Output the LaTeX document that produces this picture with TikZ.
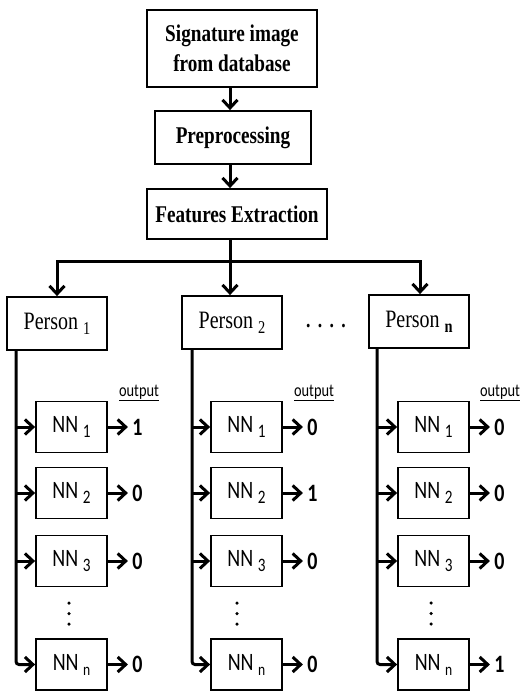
\documentclass[tikz,border=0pt]{standalone}
\usepackage{fontspec}
\usetikzlibrary{arrows.meta}
\newfontfamily\ttlfont{Liberation Serif}[FakeStretch=0.8]
\newfontfamily\nnfont{Carlito}[FakeStretch=0.8]
\newcommand\lowsub[2]{\raisebox{-5pt}{\fontsize{#1}{#1}\selectfont #2}}
\tikzset{
  boxbase/.style={draw, line width=1.8pt, inner sep=0pt, align=center},
  titlebox/.style={boxbase, font=\ttlfont\bfseries\fontsize{24}{30}\selectfont},
  personbox/.style={boxbase, minimum width=100pt, minimum height=53pt, font=\ttlfont\fontsize{25}{28}\selectfont},
  nnbox/.style={boxbase, minimum width=71pt, minimum height=51pt, font=\nnfont\fontsize{25}{28}\selectfont},
  mainline/.style={line width=3pt},
  tip/.style={-{Straight Barb[length=8pt,width=15pt]}},
  outval/.style={font=\nnfont\bfseries\fontsize{25}{28}\selectfont, inner sep=0pt, anchor=west},
  outhead/.style={font=\nnfont\fontsize{18}{20}\selectfont, inner sep=1pt},
  vdot/.style={circle, fill, inner sep=0pt, minimum size=3.5pt},
}
\begin{document}
\begin{tikzpicture}[x=1pt,y=-1pt]
\useasboundingbox (0,0) rectangle (521,692);
% top chain
\node[titlebox, minimum width=170pt, minimum height=77pt] (sig) at (232,48.5) {Signature image\\from database};
\node[titlebox, minimum width=156pt, minimum height=53pt] (pre) at (233,137.5) {Preprocessing};
\node[titlebox, minimum width=180pt, minimum height=50pt] (fea) at (237,214) {Features Extraction};
\draw[mainline,tip] (sig.south -| 230,0) -- (pre.north -| 230,0);
\draw[mainline,tip] (pre.south -| 230,0) -- (fea.north -| 230,0);
% persons
\node[personbox] (p1) at (57,323.5) {Person \lowsub{18}{1}};
\node[personbox] (p2) at (232,322.5) {Person \lowsub{18}{2}};
\node[personbox] (pn) at (419,321.5) {Person \lowsub{18}{\bfseries n}};
\coordinate (split) at (230,261);
\draw[mainline] (fea.south -| split) -- (split);
\draw[mainline,tip] (split) -| (p1.north);
\draw[mainline,tip] (split) -- (split |- p2.north);
\draw[mainline,tip] (split) -| ([xshift=1pt]pn.north);
\node[font=\ttlfont\bfseries\fontsize{22}{22}\selectfont, inner sep=0pt] (dots) at (326,326) {.\,\,.\,\,.\,\,.};
% NN columns
\foreach \c/\cx/\bx/\dx in {1/71.5/16/69, 2/246.5/192/237, 3/433.5/377/431}{
  \node[nnbox] (n\c a) at (\cx,427) {NN \lowsub{19}{1}};
  \node[nnbox] (n\c b) at (\cx,493) {NN \lowsub{19}{2}};
  \node[nnbox] (n\c c) at (\cx,561) {NN \lowsub{19}{3}};
  \node[nnbox] (n\c n) at (\cx,664.5) {NN \lowsub{17}{n}};
  \node[vdot] (d\c a) at (\dx,603) {};
  \node[vdot] (d\c b) at (\dx,613.5) {};
  \node[vdot] (d\c c) at (\dx,624) {};
  \coordinate (bus\c) at (\bx,349);
  \draw[mainline,tip,rounded corners=3pt] (bus\c) |- (n\c n.west);
  \draw[mainline,tip] (bus\c |- n\c a.west) -- (n\c a.west);
  \draw[mainline,tip] (bus\c |- n\c b.west) -- (n\c b.west);
  \draw[mainline,tip] (bus\c |- n\c c.west) -- (n\c c.west);
}
% outputs
\foreach \c/\va/\vb/\vc/\vn in {1/1/0/0/0, 2/0/1/0/0, 3/0/0/0/1}{
  \draw[mainline,tip] (n\c a.east) -- ++(20,0) node[outval,xshift=3pt] (o\c a) {\va};
  \draw[mainline,tip] (n\c b.east) -- ++(20,0) node[outval,xshift=3pt] (o\c b) {\vb};
  \draw[mainline,tip] (n\c c.east) -- ++(20,0) node[outval,xshift=3pt] (o\c c) {\vc};
  \draw[mainline,tip] (n\c n.east) -- ++(20,0) node[outval,xshift=3pt] (o\c n) {\vn};
}
\node[outhead] (h1) at (139,393) {\underline{output}};
\node[outhead] (h2) at (314,393) {\underline{output}};
\node[outhead] (h3) at (500,393) {\underline{output}};
\end{tikzpicture}
\end{document}
